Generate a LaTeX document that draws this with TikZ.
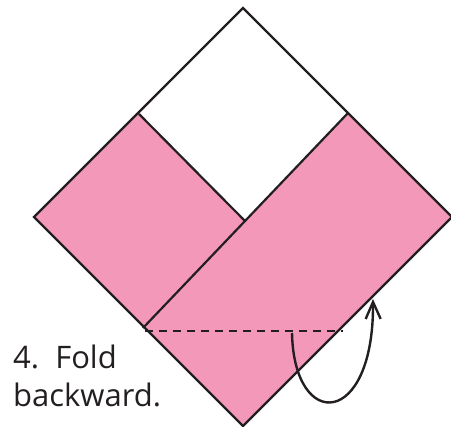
\documentclass[tikz,border=0pt]{standalone}
\usepackage{fontspec}
\setmainfont{Open Sans}
\usepackage{tikz}
\usetikzlibrary{arrows.meta}
\definecolor{foldpink}{HTML}{F498B9}
\definecolor{foldline}{HTML}{231F20}
\tikzset{
  paper/.style={draw=foldline, line width=2.2pt, line join=miter},
  crease/.style={draw=foldline, line width=2.2pt},
  foldmark/.style={draw=foldline, dash pattern=on 8pt off 6pt, line width=1.8pt},
  foldarrow/.style={draw=foldline, line width=2.4pt, -{Straight Barb[length=17pt, width=15pt, line width=2.4pt]}},
  caption/.style={font=\fontsize{31}{38}\selectfont, text=foldline, align=left, inner sep=0pt, anchor=base west}
}
\begin{document}
\begin{tikzpicture}[x=1pt, y=-1pt]
  \useasboundingbox (0,0) rectangle (451,427);
  % corners of the sheet
  \coordinate (top) at (243,8);
  \coordinate (left) at (34,217);
  \coordinate (right) at (452,217);
  \coordinate (bottom) at (243,426);
  % corners of the folded flaps
  \coordinate (flapl) at (139,114);
  \coordinate (flapr) at (348,113);
  \coordinate (mid) at (245,221);
  \coordinate (flapb) at (143,328);
  % sheet
  \fill[foldpink] (top) -- (right) -- (bottom) -- (left) -- cycle;
  \fill[white] (top) -- (flapr) -- (mid) -- (flapl) -- cycle;
  \draw[paper] (top) -- (right) -- (bottom) -- (left) -- cycle;
  \draw[crease] (flapl) -- (mid);
  \draw[crease] (flapb) -- (flapr);
  % fold line and arrow
  \coordinate (dashl) at (145,331);
  \coordinate (dashr) at (343,331);
  \draw[foldmark] (dashl) -- (dashr);
  \coordinate (arrstart) at (292,333);
  \coordinate (arrtip) at (373,299);
  \draw[foldarrow] (arrstart) .. controls (294,432) and (374,428) .. (arrtip);
  % instruction
  \node[caption] (instr) at (13,407) {4.\ \ Fold\\backward.};
\end{tikzpicture}
\end{document}
